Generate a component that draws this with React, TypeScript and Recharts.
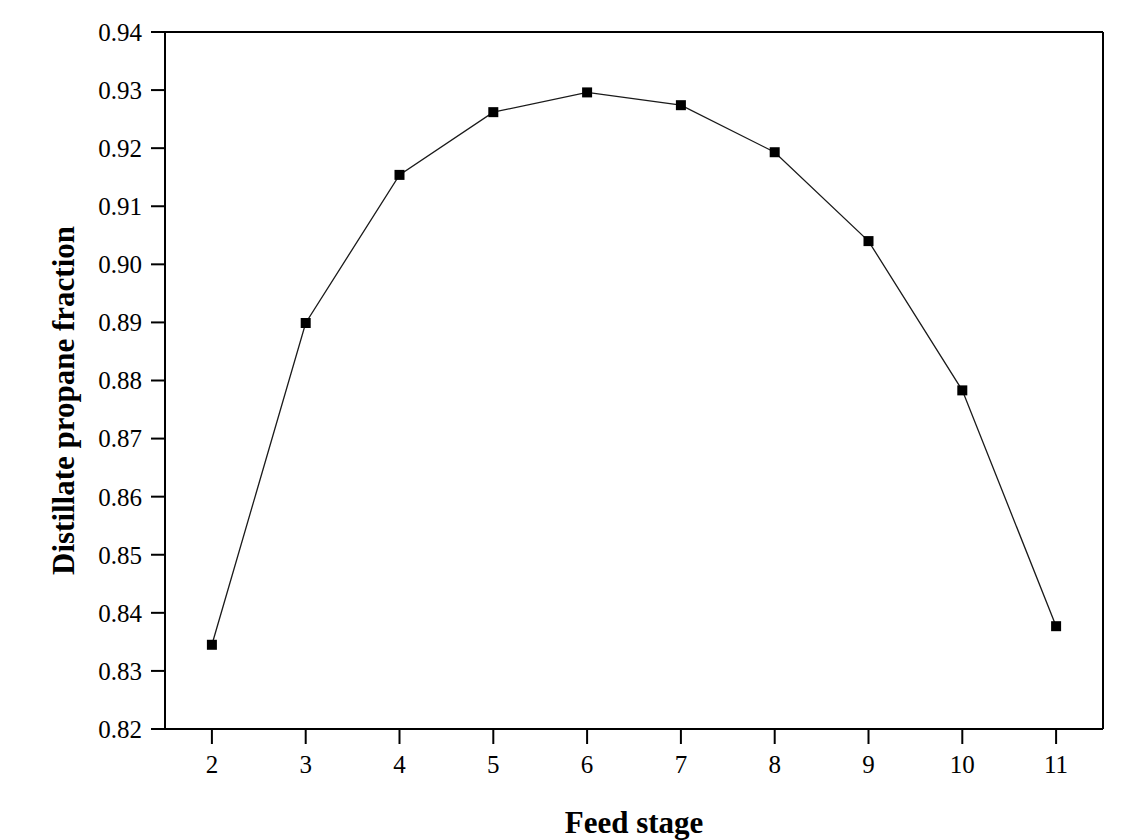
import React from "react";
import {
  LineChart, Line, XAxis, YAxis, ReferenceLine, Label,
} from "recharts";

// Feed stage location vs. propane mole fraction in the distillate
const STAGES = [2, 3, 4, 5, 6, 7, 8, 9, 10, 11];
const PROPANE = [0.8345, 0.8899, 0.9154, 0.9262, 0.9296, 0.9274, 0.9193, 0.9040, 0.8783, 0.8377];

const X_TICKS = [2, 3, 4, 5, 6, 7, 8, 9, 10, 11];
const Y_TICKS = [0.82, 0.83, 0.84, 0.85, 0.86, 0.87, 0.88, 0.89, 0.90, 0.91, 0.92, 0.93, 0.94];

const data = STAGES.map((stage, i) => ({ stage, value: PROPANE[i] }));

const FONT = "'Liberation Serif', 'Times New Roman', serif";

function SquareDot(props: any) {
  const { cx, cy } = props;
  if (cx == null || cy == null) return null;
  return <rect x={cx - 5} y={cy - 5} width={10} height={10} fill="#000" />;
}

function YTitle({ viewBox }: any) {
  const x = viewBox.x + 74;
  const y = viewBox.y + viewBox.height / 2 + 20;
  return (
    <text x={x} y={y} transform={`rotate(-90, ${x}, ${y})`} textAnchor="middle"
      fontFamily={FONT} fontWeight="bold" fontSize={31} fill="#000">
      Distillate propane fraction
    </text>
  );
}

function XTitle({ viewBox }: any) {
  return (
    <text x={viewBox.x + viewBox.width / 2} y={viewBox.y + 104} textAnchor="middle"
      fontFamily={FONT} fontWeight="bold" fontSize={31} fill="#000">
      Feed stage
    </text>
  );
}

const tickStyle = { fontFamily: FONT, fontSize: 25, fill: "#000" };
const lineStyle = { stroke: "#000", strokeWidth: 2 };

export default function App() {
  return (
    <div style={{ position: "absolute", left: 0, top: 0, background: "#fff" }}>
      <LineChart width={1135} height={840} data={data}
        margin={{ top: 32, right: 32, bottom: 0, left: 0 }}>
        <XAxis dataKey="stage" type="number" domain={[1.5, 11.5]} ticks={X_TICKS}
          height={111} tickSize={15} tickMargin={11} tick={tickStyle}
          axisLine={lineStyle} tickLine={lineStyle} allowDataOverflow>
          <Label content={<XTitle />} />
        </XAxis>
        <YAxis type="number" domain={[0.82, 0.94]} ticks={Y_TICKS} width={165}
          tickSize={14} tickMargin={9} tick={tickStyle}
          tickFormatter={(v: number) => v.toFixed(2)}
          axisLine={lineStyle} tickLine={lineStyle} allowDataOverflow>
          <Label content={<YTitle />} />
        </YAxis>
        <ReferenceLine y={0.94} stroke="#000" strokeWidth={2} />
        <ReferenceLine x={11.5} stroke="#000" strokeWidth={2} />
        <Line type="linear" dataKey="value" stroke="#1a1a1a" strokeWidth={1.3}
          dot={<SquareDot />} activeDot={false} isAnimationActive={false} />
      </LineChart>
    </div>
  );
}
